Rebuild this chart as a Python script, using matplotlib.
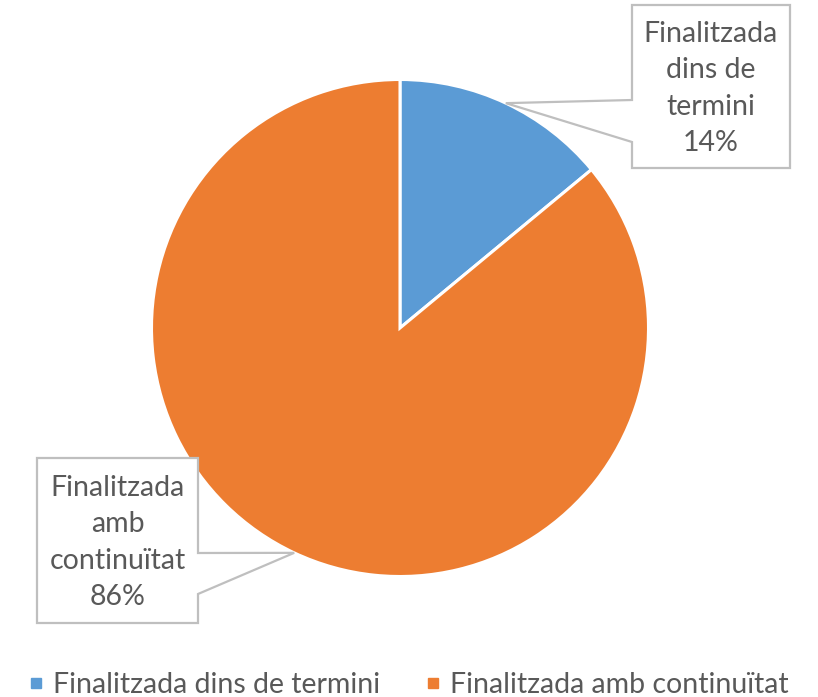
import numpy as np
import matplotlib
matplotlib.use('Agg')
from matplotlib import pyplot as plt
from matplotlib.patches import Polygon
from matplotlib.lines import Line2D

# data
categories = ['Finalitzada dins de termini', 'Finalitzada amb continuïtat']
box_labels = ['Finalitzada\ndins de\ntermini', 'Finalitzada\namb\ncontinuïtat']
values = [14, 86]
colors = ['#5B9BD5', '#ED7D31']

W, H = 818, 697
CX, CY, R = 400, 328, 248.5   # pie centre / radius in pixels
TXT = '#595959'
FONT = 'Lato'


def px2d(px, py):
    return (px - CX) / R, (CY - py) / R


fig = plt.figure(figsize=(W / 100, H / 100), dpi=100)
ax = fig.add_axes([(CX - R) / W, (H - CY - R) / H, 2 * R / W, 2 * R / H])
wedges, _ = ax.pie(values, colors=colors, startangle=90, counterclock=False,
                   radius=1, wedgeprops=dict(edgecolor='white', linewidth=2.2))
ax.set_xlim(-1, 1)
ax.set_ylim(-1, 1)
ax.set_aspect('equal')
ax.axis('off')

# callout boxes: (left, top, right, bottom) and wedge base on the side facing pie
boxes = [
    dict(rect=(632, 5, 790, 168), side='left', base=(100, 142)),
    dict(rect=(37, 458, 198, 623), side='right', base=(553, 594)),
]
total = sum(values)
for w, lab, v, b in zip(wedges, box_labels, values, boxes):
    mid = np.deg2rad((w.theta1 + w.theta2) / 2)
    ax_pt = (np.cos(mid), np.sin(mid))
    l, t, r, bt = b['rect']
    y1, y2 = b['base']
    if b['side'] == 'left':
        pts = [(l, t), (r, t), (r, bt), (l, bt), (l, y2), None, (l, y1)]
    else:
        pts = [(l, t), (r, t), (r, y1), None, (r, y2), (r, bt), (l, bt)]
    verts = [ax_pt if p is None else px2d(*p) for p in pts]
    ax.add_patch(Polygon(verts, closed=True, facecolor='white',
                         edgecolor='#BFBFBF', linewidth=1.6, clip_on=False,
                         joinstyle='miter', zorder=5))
    tx, ty = px2d((l + r) / 2, (t + bt) / 2 + 2)
    ax.text(tx, ty, f'{lab}\n{round(100 * v / total)}%', ha='center',
            va='center', multialignment='center', color=TXT, fontsize=20.5,
            family=FONT, linespacing=1.5, zorder=6, clip_on=False)

handles = [Line2D([], [], marker='s', linestyle='none', markersize=6.5,
                  markerfacecolor=c, markeredgecolor=c) for c in colors]
fig.legend(handles, categories, loc='center', bbox_to_anchor=(0.5, 1 - 685 / H),
           ncol=2, frameon=False, prop=dict(family=FONT, size=20.5),
           labelcolor=TXT, handlelength=0.5, handletextpad=0.35,
           columnspacing=1.6)

fig.savefig('out.png', dpi=100, facecolor='white')
